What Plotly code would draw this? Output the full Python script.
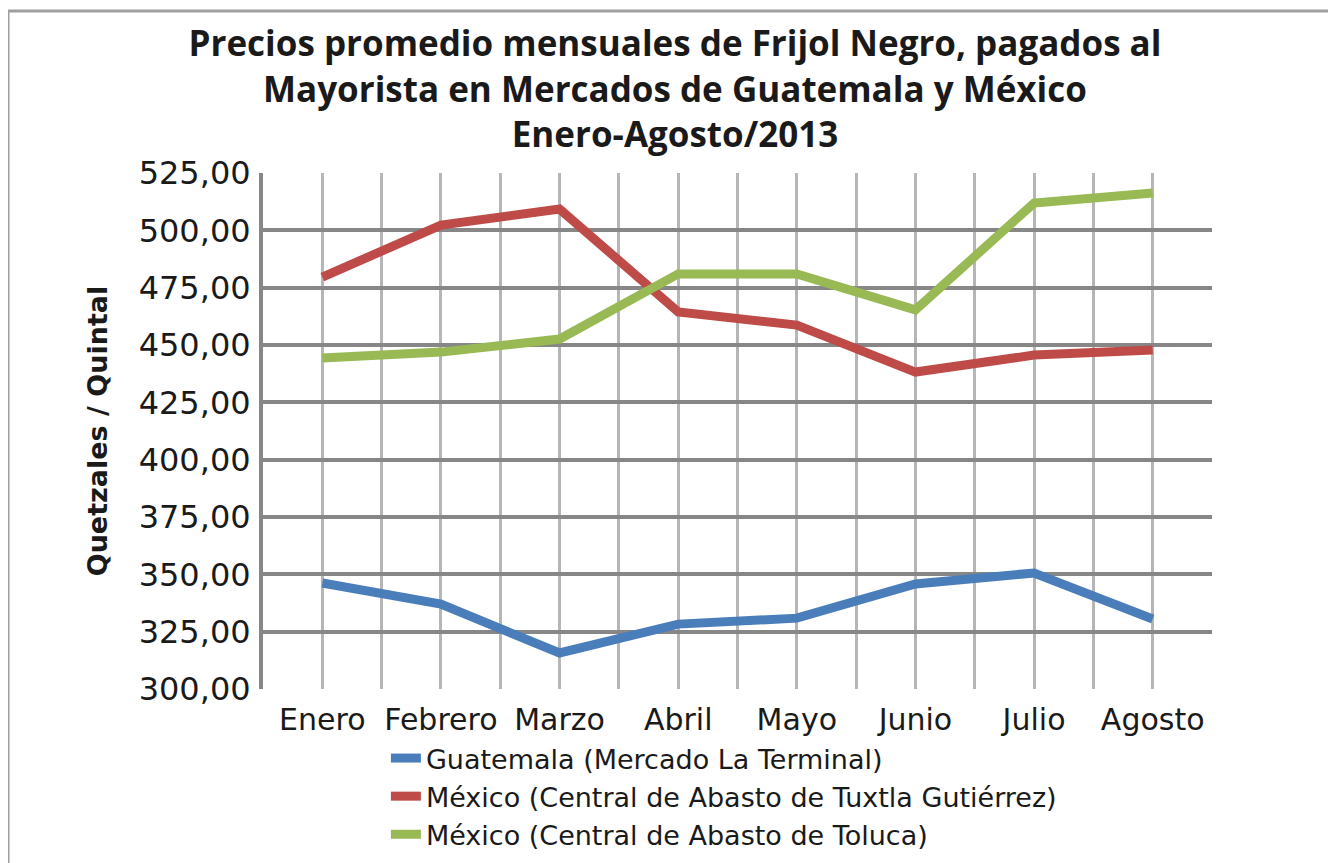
import plotly.graph_objects as go

months = ["Enero", "Febrero", "Marzo", "Abril", "Mayo", "Junio", "Julio", "Agosto"]
guatemala = [346.2, 337.0, 315.7, 328.3, 330.9, 345.8, 350.6, 330.5]
tuxtla = [479.6, 502.3, 509.3, 464.4, 458.7, 438.2, 445.6, 447.8]
toluca = [444.3, 446.9, 452.6, 481.0, 481.0, 465.3, 511.9, 516.3]
series_names = [
    "Guatemala (Mercado La Terminal)",
    "México (Central de Abasto de Tuxtla Gutiérrez)",
    "México (Central de Abasto de Toluca)",
]
colors = ["#4a7ebb", "#be4b48", "#98b954"]
y_ticks = [300, 325, 350, 375, 400, 425, 450, 475, 500, 525]

FONT = "DejaVu Sans"
TXT = "#1a1a1a"
xs = list(range(len(months)))

fig = go.Figure()
for name, vals, c in zip(series_names, [guatemala, tuxtla, toluca], colors):
    fig.add_trace(go.Scatter(x=xs, y=vals, mode="lines", name=name,
                             line=dict(color=c, width=9)))

L, R, T, B = 255, 132, 165, 182
PH = 863 - T - B
fig.update_layout(
    width=1336, height=863,
    margin=dict(l=L, r=R, t=T, b=B),
    paper_bgcolor="white", plot_bgcolor="white",
    separators=",.",
    font=dict(family=FONT, color=TXT, size=27),
    title=dict(
        text="<b>Precios promedio mensuales de Frijol Negro, pagados al<br>Mayorista en Mercados de Guatemala y México<br>Enero-Agosto/2013</b>",
        x=667 / 1336, xref="container", xanchor="center",
        y=1 - 48 / 863, yref="container", yanchor="top",
        font=dict(family="Open Sans", size=35, color=TXT),
    ),
    showlegend=True,
    legend=dict(x=0.1295, xanchor="left", xref="paper",
                y=-45 / PH, yanchor="top", yref="paper",
                font=dict(family=FONT, size=27, color=TXT),
                bgcolor="rgba(0,0,0,0)", tracegroupgap=0),
    xaxis=dict(
        range=[-0.5, len(months) - 0.5],
        tickmode="array", tickvals=xs, ticktext=months,
        showgrid=True, gridcolor="#b6b6b6", gridwidth=3,
        minor=dict(tickmode="array", tickvals=[i - 0.5 for i in range(len(months) + 1)],
                   showgrid=True, gridcolor="#b6b6b6", gridwidth=3, ticks=""),
        ticks="", zeroline=False, showline=False, ticklabelstandoff=10,
        tickfont=dict(family=FONT, size=30, color=TXT),
    ),
    yaxis=dict(
        range=[300, 525],
        tickmode="array", tickvals=y_ticks, tickformat=".2f",
        showgrid=True, gridcolor="#878787", gridwidth=4,
        ticks="", zeroline=False, showline=True, linecolor="#878787", linewidth=4,
        ticklabelstandoff=2,
        tickfont=dict(family=FONT, size=32, color=TXT),
        title=dict(text="<b>Quetzales / Quintal</b>", standoff=24,
                   font=dict(family=FONT, size=27, color=TXT)),
    ),
    shapes=[dict(type="rect", xref="paper", yref="paper",
                 x0=(0 - L) / 949, x1=(1345 - L) / 949,
                 y0=-(B + 20) / PH, y1=1 + (T - 3) / PH,
                 line=dict(color="#a0a0a0", width=3), layer="below")],
)

fig.write_html("out.html")
